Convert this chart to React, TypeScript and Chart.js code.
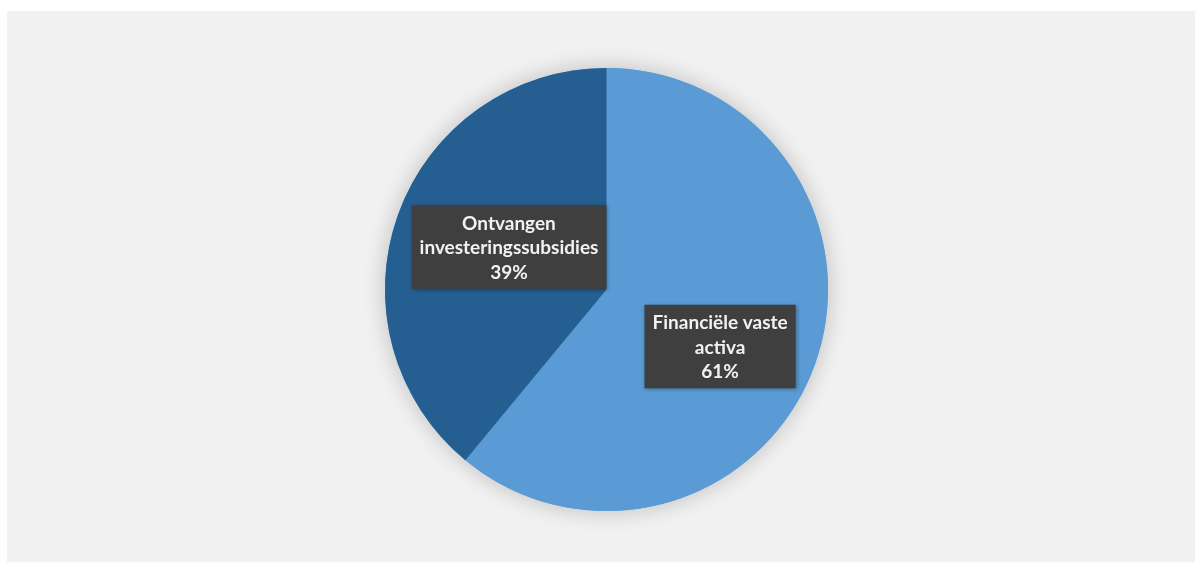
import React, { useEffect, useRef } from 'react';
import { Chart, registerables } from 'chart.js';

Chart.register(...registerables);

const categories = ['Financiële vaste activa', 'Ontvangen investeringssubsidies'];
const labelLines = [
  ['Financiële vaste', 'activa', '61%'],
  ['Ontvangen', 'investeringssubsidies', '39%'],
];
const values = [61, 39];
const sliceColors = ['#5B9BD5', '#255E91'];

const PANEL_W = 1188;
const PANEL_H = 551;
// label placement factors relative to the slice's mid angle (x, y)
const LABEL_FACTORS = [
  [0.545, 0.76],
  [0.468, 0.566],
];

const shadowPlugin = {
  id: 'pieShadow',
  beforeDatasetsDraw(chart: any) {
    const meta = chart.getDatasetMeta(0);
    const arc = meta.data[0];
    if (!arc) return;
    const { x, y, outerRadius } = arc.getProps(['x', 'y', 'outerRadius'], true);
    const ctx = chart.ctx;
    ctx.save();
    ctx.shadowColor = 'rgba(0,0,0,0.22)';
    ctx.shadowBlur = 22;
    ctx.fillStyle = '#5B9BD5';
    ctx.beginPath();
    ctx.arc(x, y, outerRadius, 0, Math.PI * 2);
    ctx.fill();
    ctx.restore();
  },
};

const labelPlugin = {
  id: 'boxLabels',
  afterDatasetsDraw(chart: any) {
    const meta = chart.getDatasetMeta(0);
    const ctx = chart.ctx;
    const fontSize = 19;
    const lineH = 24.5;
    const padX = 8;
    const padY = 5;
    meta.data.forEach((arc: any, i: number) => {
      const { x, y, startAngle, endAngle, outerRadius } = arc.getProps(
        ['x', 'y', 'startAngle', 'endAngle', 'outerRadius'],
        true
      );
      const mid = (startAngle + endAngle) / 2;
      const [fx, fy] = LABEL_FACTORS[i];
      const cx = x + Math.cos(mid) * outerRadius * fx;
      const cy = y + Math.sin(mid) * outerRadius * fy;
      const lines = labelLines[i];
      ctx.save();
      ctx.font = `bold ${fontSize}px Lato, "Open Sans", sans-serif`;
      const w = Math.max(...lines.map((l) => ctx.measureText(l).width)) + padX * 2;
      const h = lines.length * lineH + padY * 2;
      ctx.shadowColor = 'rgba(0,0,0,0.35)';
      ctx.shadowBlur = 4;
      ctx.shadowOffsetX = 1;
      ctx.shadowOffsetY = 1;
      ctx.fillStyle = '#3f3f3f';
      ctx.fillRect(cx - w / 2, cy - h / 2, w, h);
      ctx.shadowColor = 'transparent';
      ctx.fillStyle = '#f2f2f2';
      ctx.textAlign = 'center';
      ctx.textBaseline = 'middle';
      lines.forEach((l, k) => {
        ctx.fillText(l, cx, cy + (k - (lines.length - 1) / 2) * lineH + 1);
      });
      ctx.restore();
    });
  },
};

export default function App() {
  const ref = useRef<HTMLCanvasElement | null>(null);
  useEffect(() => {
    if (!ref.current) return;
    const chart = new Chart(ref.current, {
      type: 'pie',
      data: {
        labels: categories,
        datasets: [
          {
            data: values,
            backgroundColor: sliceColors,
            borderWidth: 0,
          },
        ],
      },
      options: {
        responsive: false,
        animation: false,
        layout: { padding: { top: 57, bottom: 51, left: 11, right: 0 } },
        plugins: {
          legend: { display: false },
          tooltip: { enabled: false },
        },
      },
      plugins: [shadowPlugin, labelPlugin],
    });
    return () => chart.destroy();
  }, []);
  return (
    <div style={{ position: 'fixed', inset: 0, background: '#ffffff' }}>
      <div
        style={{
          position: 'absolute',
          left: 7,
          top: 11,
          width: PANEL_W,
          height: PANEL_H,
          background: '#f1f1f1',
        }}
      >
        <canvas ref={ref} width={PANEL_W} height={PANEL_H} />
      </div>
    </div>
  );
}
